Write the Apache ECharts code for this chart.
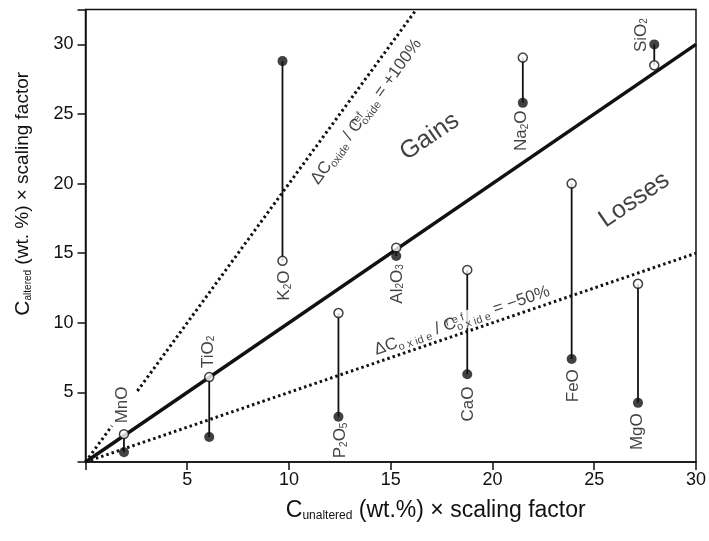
<!DOCTYPE html>
<html>
<head>
<meta charset="utf-8">
<script src="https://cdn.jsdelivr.net/npm/echarts@6/dist/echarts.min.js"></script>
<style>
html,body{margin:0;padding:0;background:#fff}
#chart{width:709px;height:541px}
</style>
</head>
<body>
<div id="chart"></div>
<script>
// oxide data
var oxides = ['MnO', 'TiO2', 'K2O', 'P2O5', 'Al2O3', 'CaO', 'Na2O', 'FeO', 'MgO', 'SiO2'];
var oxideText = ['MnO', 'TiO{s|2}', 'K{s|2}O', 'P{s|2}O{s|5}', 'Al{s|2}O{s|3}', 'CaO', 'Na{s|2}O', 'FeO', 'MgO', 'SiO{s|2}'];
var xValues = [1.89, 6.08, 9.68, 12.43, 15.27, 18.76, 21.49, 23.89, 27.15, 27.95];
var openValues = [2.0, 6.1, 14.45, 10.7, 15.4, 13.8, 29.05, 20.0, 12.8, 28.5];
var filledValues = [0.7, 1.8, 28.8, 3.25, 14.8, 6.3, 25.8, 7.4, 4.25, 30.0];
var labelX = [1.79, 6.03, 9.79, 12.53, 15.3, 18.79, 21.44, 23.96, 27.13, 27.3];
var labelY = [4.1, 7.92, 12.67, 1.55, 12.79, 4.17, 23.8, 5.48, 2.18, 30.67];

// reference lines
var isoconLine = [[0, 0], [30, 30]];
var plus100Line = [[0, 0], [1.3, 2.6], '-', [2.55, 5.1], [16.25, 32.5]];
var minus50Line = [[0, 0], [30, 15]];

// free text: [x, y, rotate, text]
var notes = [
  [16.91, 23.37, 34.3, 'Gains'],
  [26.97, 18.82, 34.3, 'Losses']
];
var plusNote = [13.8, 25.17, 53.8];
var minusNote = [18.5, 10.15, 18.85];

var xMin = 0, xMax = 30, yMin = 0, yMax = 32.5, tickStep = 5;

var ink = '#111';
var font = 'Liberation Sans, Arial, sans-serif';

var segData = [];
var openData = [];
var filledData = [];
var labelData = [];
oxides.forEach(function(name, i){
  segData.push([xValues[i], openValues[i]]);
  segData.push([xValues[i], filledValues[i]]);
  segData.push('-');
  openData.push([xValues[i], openValues[i]]);
  filledData.push([xValues[i], filledValues[i]]);
  labelData.push({value: [labelX[i], labelY[i]], label: {rotate: 90, formatter: oxideText[i]}});
});
notes.forEach(function(n){
  labelData.push({value: [n[0], n[1]], label: {rotate: n[2], formatter: n[3], fontSize: 25}});
});

var subStyle = {fontSize: 10, verticalAlign: 'bottom', lineHeight: 10, fontFamily: font, color: ink};
// stacked sub/superscript for the ratio notes
var ratioRich = {
  b: {fontSize: 11, lineHeight: 11, verticalAlign: 'middle', padding: [10, 0, 0, 0], fontFamily: font, color: ink},
  p: {fontSize: 11, lineHeight: 11, verticalAlign: 'top', padding: [0, 0, 18, 0], width: 0, align: 'left', fontFamily: font, color: ink}
};
var chart = echarts.init(document.getElementById('chart'));
var option = {
  animation: false,
  backgroundColor: '#fff',
  textStyle: {fontFamily: font, color: ink},
  grid: {left: 85.5, right: 12, top: 9.6, bottom: 79, show: true, borderColor: ink, borderWidth: 1.5, backgroundColor: 'transparent'},
  xAxis: [{
    type: 'value', min: xMin, max: xMax, interval: tickStep,
    splitLine: {show: false},
    axisLine: {lineStyle: {color: ink, width: 1.5}},
    axisTick: {length: 8, lineStyle: {color: ink, width: 1.5}},
    axisLabel: {color: ink, fontSize: 18, margin: 9, fontFamily: font,
      formatter: function(v){ return v === 0 ? '' : v; }},
    name: '{c|C}{s|unaltered} (wt.%) × scaling factor',
    nameLocation: 'middle', nameGap: 37,
    nameTextStyle: {color: ink, fontSize: 23, fontFamily: font, padding: [0, 0, 0, 90],
      rich: {c: {fontSize: 23, fontFamily: font, color: ink}, s: {fontSize: 12, verticalAlign: 'bottom', lineHeight: 12, fontFamily: font, color: ink}}}
  }],
  yAxis: [{
    type: 'value', min: yMin, max: yMax, interval: tickStep,
    splitLine: {show: false},
    axisLine: {lineStyle: {color: ink, width: 1.5}},
    axisTick: {length: 8, lineStyle: {color: ink, width: 1.5}},
    axisLabel: {color: ink, fontSize: 18, margin: 12, fontFamily: font,
      formatter: function(v){ return (v === 0 || v > 30) ? '' : v; }},
    name: '{c|C}{s|altered} (wt. %) × scaling factor',
    nameLocation: 'middle', nameGap: 52,
    nameTextStyle: {color: ink, fontSize: 19, fontFamily: font, padding: [0, 0, 0, 84],
      rich: {c: {fontSize: 21, fontFamily: font, color: ink}, s: {fontSize: 10, verticalAlign: 'bottom', lineHeight: 10, fontFamily: font, color: ink}}}
  }],
  series: [
    {
      name: 'segments', type: 'line', data: segData, z: 2,
      symbol: 'none', connectNulls: false,
      lineStyle: {color: ink, width: 1.8}
    },
    {
      name: 'labels', type: 'scatter', data: labelData, z: 3,
      symbolSize: 1, itemStyle: {color: 'rgba(0,0,0,0)'},
      label: {show: true, position: 'inside', color: ink, fontSize: 17, fontFamily: font,
        rich: {s: subStyle}}
    },
    {
      name: 'minusNote', type: 'scatter', data: [[minusNote[0], minusNote[1]]], z: 3,
      symbolSize: 1, itemStyle: {color: 'rgba(0,0,0,0)'},
      label: {show: true, position: 'inside', rotate: minusNote[2], color: ink, fontSize: 17, fontFamily: font,
        backgroundColor: '#fff', padding: [0, 2],
        formatter: 'ΔC{b|o x id e} / C{p|r e f}{b|o x id e} = −50%',
        rich: ratioRich}
    },
    {
      name: 'plusNote', type: 'scatter', data: [[plusNote[0], plusNote[1]]], z: 3,
      symbolSize: 1, itemStyle: {color: 'rgba(0,0,0,0)'},
      label: {show: true, position: 'inside', rotate: plusNote[2], color: ink, fontSize: 17, fontFamily: font,
        formatter: 'ΔC{b|oxide} / C{p|ref}{b|oxide} = +100%',
        rich: ratioRich}
    },
    {
      name: 'isocon', type: 'line', data: isoconLine, z: 4, symbol: 'none',
      lineStyle: {color: ink, width: 3.5}
    },
    {
      name: '+100%', type: 'line', data: plus100Line, z: 4, symbol: 'none', connectNulls: false,
      lineStyle: {color: ink, width: 3, type: [2.5, 3]}
    },
    {
      name: '-50%', type: 'line', data: minus50Line, z: 4, symbol: 'none',
      lineStyle: {color: ink, width: 3, type: [2.5, 3]}
    },
    {
      name: 'open', type: 'scatter', data: openData, z: 5,
      symbol: 'circle', symbolSize: 9,
      itemStyle: {color: '#fff', borderColor: ink, borderWidth: 1.5}
    },
    {
      name: 'filled', type: 'scatter', data: filledData, z: 5,
      symbol: 'circle', symbolSize: 10,
      itemStyle: {color: ink}
    }
  ]
};
chart.setOption(option);
</script>
</body>
</html>
